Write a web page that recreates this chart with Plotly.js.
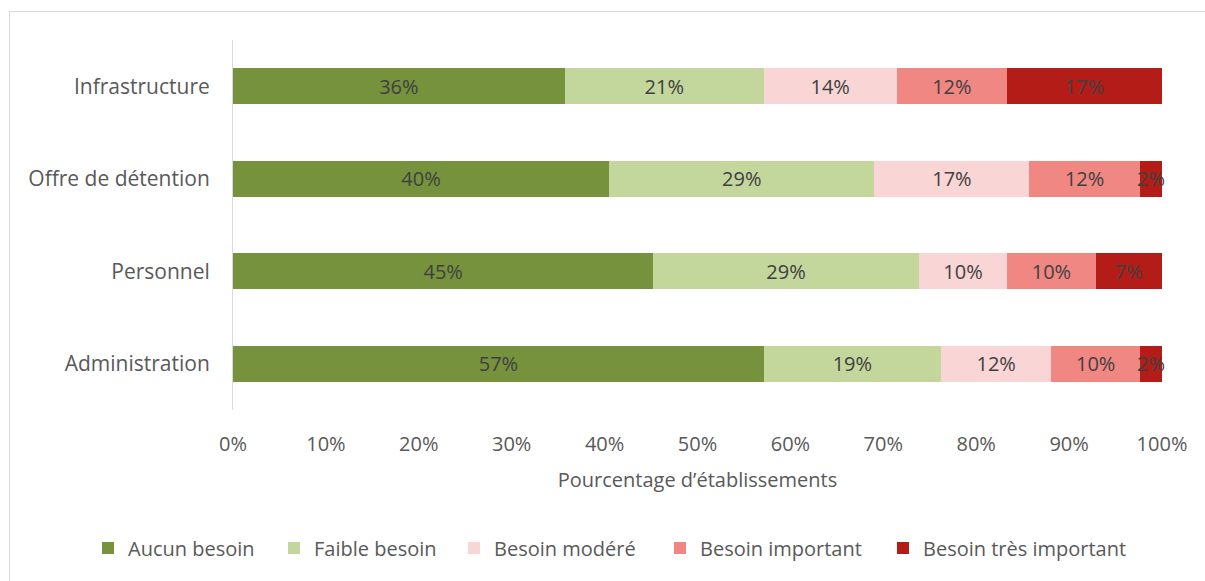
<!DOCTYPE html>
<html>
<head>
<meta charset="utf-8">
<script src="https://cdn.plot.ly/plotly-3.0.1.min.js"></script>
<style>
  html, body { margin:0; padding:0; background:#fff; overflow:hidden; }
  #chart { position:absolute; left:0; top:0; width:1205px; height:581px; }
  #frame { position:absolute; left:9px; top:11px; width:1300px; height:700px; border:1px solid #d9d9d9; pointer-events:none; }
</style>
</head>
<body>
<div id="frame"></div>
<div id="chart"></div>
<script>
// Categories (top to bottom)
const categories = ["Infrastructure", "Offre de détention", "Personnel", "Administration"];
// Series values (percentage of establishments)
const aucunBesoin      = [35.71, 40.48, 45.24, 57.14];
const faibleBesoin     = [21.43, 28.57, 28.57, 19.05];
const besoinModere     = [14.29, 16.67, 9.52, 11.90];
const besoinImportant  = [11.90, 11.90, 9.52, 9.52];
const besoinTresImp    = [16.67, 2.38, 7.14, 2.38];
const seriesNames = ["Aucun besoin", "Faible besoin", "Besoin modéré", "Besoin important", "Besoin très important"];
const tickValues = [0, 10, 20, 30, 40, 50, 60, 70, 80, 90, 100];
const xTitle = "Pourcentage d’établissements";

const seriesValues = [aucunBesoin, faibleBesoin, besoinModere, besoinImportant, besoinTresImp];
const colors = ["#76923c", "#c3d69b", "#f9d6d5", "#f08783", "#b41c18"];
const fontFam = "Open Sans, Lato, sans-serif";
// left pixel position of each legend entry
const legendLeftPx = [88, 274, 454, 660, 883];
const legendIds = ["legend", "legend2", "legend3", "legend4", "legend5"];

const traces = seriesValues.map((vals, i) => ({
  type: "bar",
  orientation: "h",
  name: seriesNames[i],
  legend: legendIds[i],
  y: categories,
  x: vals,
  marker: { color: colors[i], line: { width: 0 } },
  text: vals.map(v => Math.round(v) + "%"),
  texttemplate: "%{text}",
  textposition: "inside",
  insidetextanchor: "middle",
  textangle: 0,
  constraintext: "none",
  textfont: { family: fontFam, size: 20, color: "#404040" },
  hoverinfo: "skip",
  cliponaxis: false
}));

const layout = {
  width: 1205,
  height: 581,
  paper_bgcolor: "rgba(0,0,0,0)",
  plot_bgcolor: "rgba(0,0,0,0)",
  barmode: "stack",
  barnorm: "percent",
  bargap: 0.61,
  margin: { l: 233, r: 43, t: 40, b: 171 },
  font: { family: fontFam, color: "#595959" },
  xaxis: {
    range: [0, 100.0001],
    tickvals: tickValues,
    ticktext: tickValues.map(v => v + "%"),
    showgrid: false,
    zeroline: false,
    showline: false,
    ticks: "",
    ticklabelstandoff: 20,
    tickfont: { family: fontFam, size: 20, color: "#595959" },
    title: { text: xTitle, font: { family: fontFam, size: 20, color: "#595959" }, standoff: 16 },
    fixedrange: true
  },
  yaxis: {
    autorange: "reversed",
    showgrid: false,
    zeroline: false,
    showline: true,
    linecolor: "#d9d9d9",
    linewidth: 1,
    ticks: "",
    ticklabelstandoff: 18,
    tickfont: { family: fontFam, size: 21, color: "#595959" },
    fixedrange: true
  },
  showlegend: true
};

legendIds.forEach((id, i) => {
  layout[id] = {
    orientation: "h",
    x: legendLeftPx[i] / 1205,
    xref: "container",
    xanchor: "left",
    y: 1 - 548 / 581,
    yref: "container",
    yanchor: "middle",
    bgcolor: "rgba(0,0,0,0)",
    font: { family: fontFam, size: 20, color: "#595959" },
    itemclick: false,
    itemdoubleclick: false
  };
});

Plotly.newPlot("chart", traces, layout, { displayModeBar: false, staticPlot: true });
</script>
</body>
</html>
